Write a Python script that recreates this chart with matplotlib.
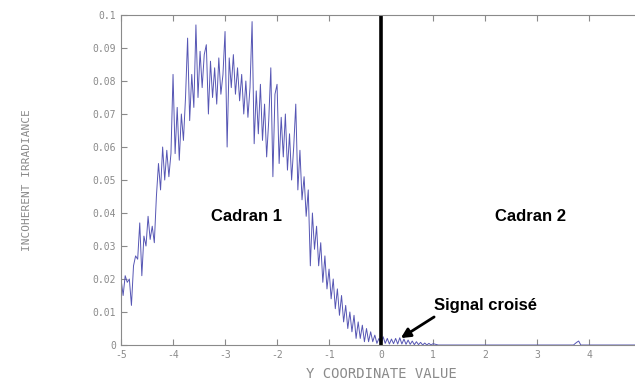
import numpy as np
import matplotlib
matplotlib.use('Agg')
import matplotlib.pyplot as plt

plt.rcParams['axes.unicode_minus'] = False

# signal lu sur la figure, pas de 0.04 entre -5 et 1
x_debut = -5.0
pas = 0.04
irradiance = [
    0.020, 0.015, 0.021, 0.019, 0.020, 0.012, 0.024, 0.027, 0.026, 0.037,
    0.021, 0.033, 0.030, 0.039, 0.032, 0.036, 0.031, 0.045, 0.055, 0.047,
    0.060, 0.050, 0.059, 0.051, 0.058, 0.082, 0.058, 0.072, 0.056, 0.070,
    0.062, 0.075, 0.093, 0.068, 0.082, 0.072, 0.097, 0.075, 0.089, 0.078,
    0.088, 0.091, 0.070, 0.086, 0.075, 0.084, 0.073, 0.087, 0.076, 0.082,
    0.095, 0.060, 0.087, 0.078, 0.088, 0.076, 0.084, 0.074, 0.082, 0.070,
    0.080, 0.069, 0.078, 0.098, 0.061, 0.077, 0.064, 0.079, 0.062, 0.073,
    0.057, 0.068, 0.084, 0.051, 0.076, 0.079, 0.055, 0.069, 0.057, 0.070,
    0.053, 0.064, 0.050, 0.060, 0.073, 0.047, 0.059, 0.044, 0.051, 0.039,
    0.047, 0.024, 0.040, 0.029, 0.036, 0.024, 0.031, 0.019, 0.027, 0.017,
    0.023, 0.014, 0.020, 0.011, 0.017, 0.009, 0.015, 0.007, 0.012, 0.005,
    0.010, 0.004, 0.009, 0.002, 0.007, 0.002, 0.006, 0.001, 0.005, 0.001,
    0.004, 0.001, 0.003, 0.0005, 0.002, 0.0003, 0.0025, 0.0005, 0.002, 0.0003,
    0.0018, 0.0004, 0.002, 0.0003, 0.0022, 0.0003, 0.0018, 0.0002, 0.0015, 0.0002,
    0.0012, 0.0001, 0.001, 0.0001, 0.0008, 0.0, 0.0006, 0.0, 0.0005, 0.0,
    0.0004,
]
# fin du signal (presque nul), petit pic vers 3.8
x_fin = [1.1, 3.70, 3.76, 3.80, 3.84, 5.0]
irr_fin = [0.0, 0.0, 0.0008, 0.0012, 0.0, 0.0]

x = np.concatenate([x_debut + pas * np.arange(len(irradiance)), x_fin])
y = np.concatenate([irradiance, irr_fin])

gris = '#8a8a8a'
mono = 'DejaVu Sans Mono'

fig = plt.figure(figsize=(6.35, 3.83), dpi=100)
ax = fig.add_axes([0.1906, 0.0992, 0.819, 0.8616])
ax.plot(x, y, color='#5656b4', linewidth=0.7)
ax.axvline(0, color='black', linewidth=2.6)

ax.set_xlim(-5, 5)
ax.set_ylim(0, 0.1)
ax.set_xticks(range(-5, 5))
ax.set_yticks(np.arange(0, 0.101, 0.01))
ax.set_yticklabels(['0', '0.01', '0.02', '0.03', '0.04', '0.05', '0.06',
                    '0.07', '0.08', '0.09', '0.1'])
ax.tick_params(direction='in', length=4, color=gris, labelcolor=gris,
               labelsize=7, top=True, width=0.8)
for lab in ax.get_xticklabels() + ax.get_yticklabels():
    lab.set_family(mono)
for s in ['left', 'bottom', 'top']:
    ax.spines[s].set_color(gris)
ax.spines['right'].set_visible(False)

ax.set_xlabel('Y COORDINATE VALUE', family=mono, color=gris, fontsize=10, labelpad=5)
ax.set_ylabel('INCOHERENT IRRADIANCE', family=mono, color=gris, fontsize=8, labelpad=44)

police = dict(family='Liberation Sans', fontweight='bold', fontsize=12, ha='center', va='center')
ax.text(-2.58, 0.039, 'Cadran 1', **police)
ax.text(2.87, 0.039, 'Cadran 2', **police)
ax.text(2.0, 0.0121, 'Signal croisé', **police)
ax.annotate('', xy=(0.38, 0.0021), xytext=(1.02, 0.0085),
            arrowprops=dict(arrowstyle='-|>', color='black', lw=2, mutation_scale=14,
                            shrinkA=0, shrinkB=0))

fig.savefig('out.png', dpi=100)
